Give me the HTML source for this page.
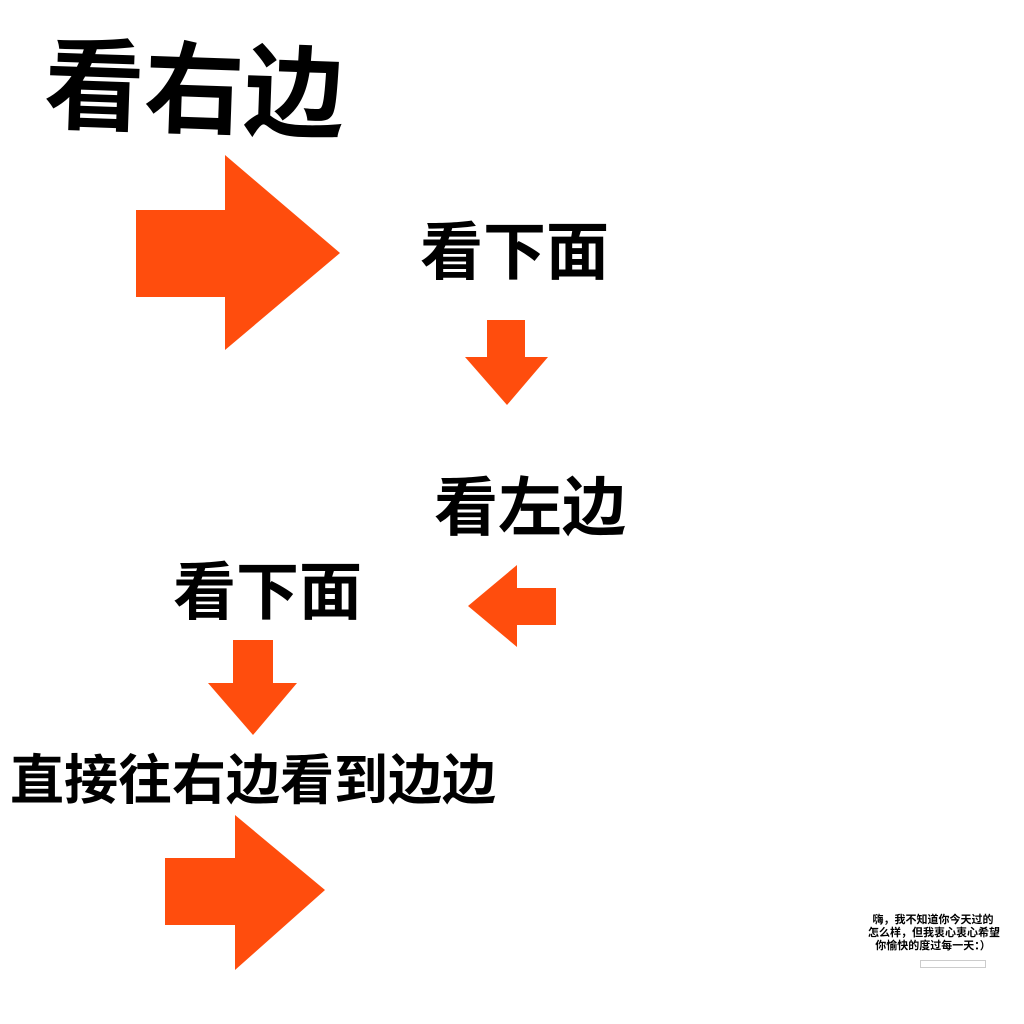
<!DOCTYPE html>
<html><head><meta charset="utf-8"><style>
html,body{margin:0;padding:0;background:#fff;}
body{width:1024px;height:1024px;position:relative;overflow:hidden;font-family:"Liberation Sans","Noto Sans CJK SC",sans-serif;}
.t{position:absolute;font-weight:bold;color:#000;white-space:nowrap;line-height:1;}
svg{position:absolute;left:0;top:0;}
</style></head><body>
<div class="t" style="left:46px;top:36px;font-size:100px;transform:rotate(2deg);transform-origin:left top;letter-spacing:0px;">看右边</div>
<div class="t" style="left:420px;top:222px;font-size:63px;">看下面</div>
<div class="t" style="left:434px;top:476px;font-size:64px;">看左边</div>
<div class="t" style="left:173px;top:562px;font-size:63px;">看下面</div>
<div class="t" style="left:10px;top:754px;font-size:54px;">直接往右边看到边边</div>
<div class="t" style="left:868px;top:914px;width:130px;text-align:center;font-size:11px;line-height:13px;font-weight:bold;">嗨，我不知道你今天过的<br>怎么样，但我衷心衷心希望<br>你愉快的度过每一天：）</div>
<div style="position:absolute;left:920px;top:960px;width:64px;height:6px;border:1px solid #ccc;"></div>
<svg width="1024" height="1024">
<g fill="#ff4d0d">
<polygon points="136,210 225,210 225,155 340,253 225,350 225,297 136,297"/>
<polygon points="487,320 525,320 525,357 548,357 507,405 465,357 487,357"/>
<polygon points="556,588 517,588 517,565 468,606 517,647 517,625 556,625"/>
<polygon points="233,640 273,640 273,683 297,683 253,735 208,683 233,683"/>
<polygon points="165,858 235,858 235,815 325,890 235,970 235,925 165,925"/>
</g>
</svg>
</body></html>
